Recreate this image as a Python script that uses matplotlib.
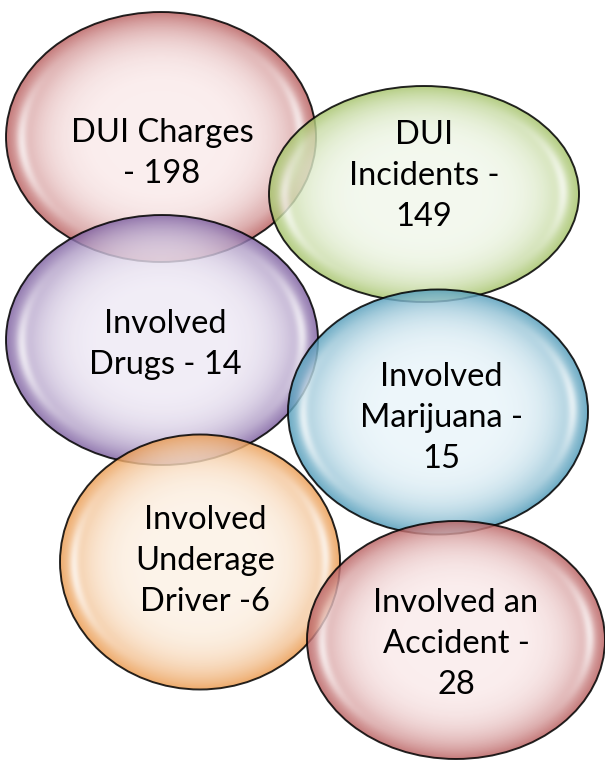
import numpy as np
import matplotlib
matplotlib.use("Agg")
from matplotlib import pyplot as plt
from matplotlib.patches import Ellipse

# data
labels = ["DUI Charges", "DUI Incidents", "Involved Drugs",
          "Involved Marijuana", "Involved Underage Driver", "Involved an Accident"]
values = [198, 149, 14, 15, 6, 28]
# how each label is broken into lines inside its bubble
text_lines = [
    ["DUI Charges", "- 198"],
    ["DUI", "Incidents -", "149"],
    ["Involved", "Drugs - 14"],
    ["Involved", "Marijuana -", "15"],
    ["Involved", "Underage", "Driver -6"],
    ["Involved an", "Accident -", "28"],
]

# layout (pixel coords): center x, center y, width, height
bubbles = [
    (161, 137, 310, 250),
    (424, 194, 310, 216),
    (162, 340, 312, 250),
    (438, 412, 300, 245),
    (200, 562, 280, 255),
    (456, 640, 298, 238),
]
text_x = [162, 424, 165, 441, 205, 456]
text_base = [142, 144, 333, 386, 529, 612]   # baseline of first line
line_gap = 41

light = [(251, 236, 236), (242, 248, 236), (240, 235, 246),
         (234, 245, 250), (253, 242, 230), (251, 236, 236)]
rim = [(185, 95, 95), (165, 195, 105), (125, 95, 160),
       (80, 155, 185), (235, 155, 80), (185, 95, 95)]

plt.rcParams['font.family'] = ['Lato', 'DejaVu Sans']

fig = plt.figure(figsize=(6.05, 7.61), dpi=100)
ax = fig.add_axes([0, 0, 1, 1])
ax.set_xlim(0, 605)
ax.set_ylim(761, 0)
ax.axis('off')


def bubble(i):
    cx, cy, w, h = bubbles[i]
    n = 300
    xs = np.linspace(-1, 1, n)
    X, Y = np.meshgrid(xs, xs)
    r = np.sqrt(X ** 2 + Y ** 2)
    t = np.clip(r, 0, 1) ** 5
    lc = np.array(light[i]) / 255
    rc = np.array(rim[i]) / 255
    img = np.zeros((n, n, 4))
    for k in range(3):
        img[..., k] = lc[k] + (rc[k] - lc[k]) * t
    img[..., 3] = 0.82
    # glossy highlight on the left and right side
    for sx in (-1, 1):
        hl = np.exp(-((r - 0.9) / 0.035) ** 2) * np.clip(sx * X * 1.3 - 0.3, 0, 1) * np.exp(-(Y + 0.1 * sx) ** 2 / 0.25)
        for k in range(3):
            img[..., k] = img[..., k] + (1 - img[..., k]) * hl * 0.8
    clip = Ellipse((cx, cy), w, h, transform=ax.transData)
    im = ax.imshow(img, extent=(cx - w / 2, cx + w / 2, cy + h / 2, cy - h / 2),
                   interpolation='bilinear', zorder=i * 2)
    im.set_clip_path(clip)
    ax.add_patch(Ellipse((cx, cy), w, h, fill=False, edgecolor='black',
                         lw=1.4, alpha=0.85, zorder=i * 2 + 1))


for i in range(len(labels)):
    bubble(i)

for i in range(len(labels)):
    for j, line in enumerate(text_lines[i]):
        ax.text(text_x[i], text_base[i] + j * line_gap, line, ha='center', va='baseline',
                fontsize=23.5, color='black', zorder=20)

ax.set_aspect('auto')
fig.savefig('out.png', dpi=100, facecolor='white')
